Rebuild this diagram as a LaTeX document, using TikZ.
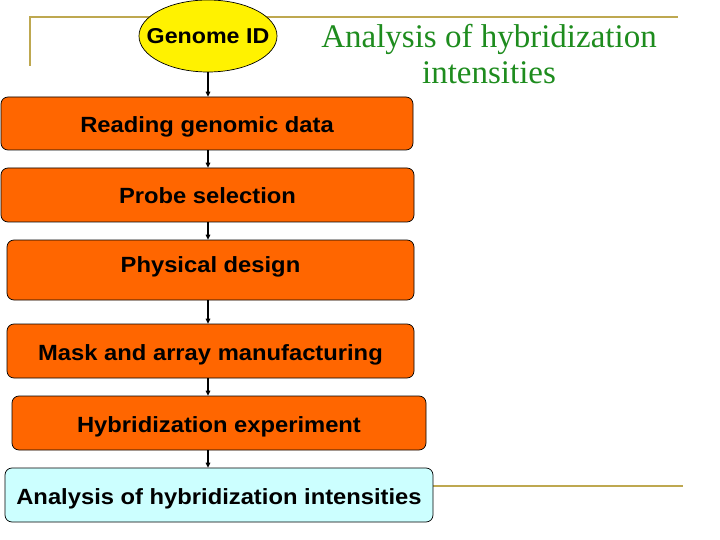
\documentclass[tikz,border=0pt]{standalone}
\usepackage{fontspec}
\setmainfont{Liberation Serif}
\setsansfont{Liberation Sans}
\newfontfamily\stepfont[FakeStretch=1.08]{Liberation Sans}
\usetikzlibrary{arrows.meta, shapes.geometric}

\definecolor{boxorange}{RGB}{255,102,0}
\definecolor{boxcyan}{RGB}{204,255,255}
\definecolor{titlegreen}{RGB}{30,140,30}
\definecolor{framegold}{RGB}{190,168,80}

\begin{document}
\begin{tikzpicture}[x=1pt, y=-1pt,
    stepbox/.style={draw=black, line width=0.7pt, rounded corners=7pt, fill=boxorange,
      font=\stepfont\bfseries\fontsize{22}{26}\selectfont, inner sep=0pt,
      text height=18pt, text depth=0pt},
    flow/.style={draw, line width=1.2pt, -{Triangle[length=5pt, width=4.5pt]}},
    goldline/.style={draw=framegold, line width=2pt}]
  \useasboundingbox (0,0) rectangle (720,540);
  % frame lines
  \draw[goldline] (30,66) -- (30,17) -- (678,17);
  \draw[goldline] (433,486) -- (683,486);
  % title
  \node[text=titlegreen, align=center, font=\fontsize{33}{36}\selectfont] (title) at (489,54)
    {Analysis of hybridization\\intensities};
  \node[ellipse, draw=black, line width=0.7pt, fill=yellow, minimum width=138pt, minimum height=72pt,
    inner sep=0pt, font=\stepfont\bfseries\fontsize{21.5}{26}\selectfont] (genome) at (208,36)
    {\makebox[80pt]{Genome ID}};
  % steps
  \node[stepbox, minimum width=412pt, minimum height=53pt] (read) at (207,123.5) {Reading genomic data};
  \node[stepbox, minimum width=413pt, minimum height=54pt] (probe) at (207.5,195) {Probe selection};
  \node[stepbox, minimum width=407pt, minimum height=60pt, text height=16pt, text depth=12pt] (phys)
    at (210.5,270) {Physical design};
  \node[stepbox, minimum width=407pt, minimum height=54pt] (mask) at (210.5,351) {Mask and array manufacturing};
  \node[stepbox, minimum width=414pt, minimum height=54pt] (hyb) at (219,423) {Hybridization experiment};
  \node[stepbox, fill=boxcyan, minimum width=428pt, minimum height=54pt] (anal) at (219,495)
    {Analysis of hybridization intensities};
  % arrows
  \foreach \a/\b in {genome/read, read/probe, probe/phys, phys/mask, mask/hyb, hyb/anal}{
    \path[flow] (\a.south -| genome.south) -- (\b.north -| genome.south);
  }
\end{tikzpicture}
\end{document}
